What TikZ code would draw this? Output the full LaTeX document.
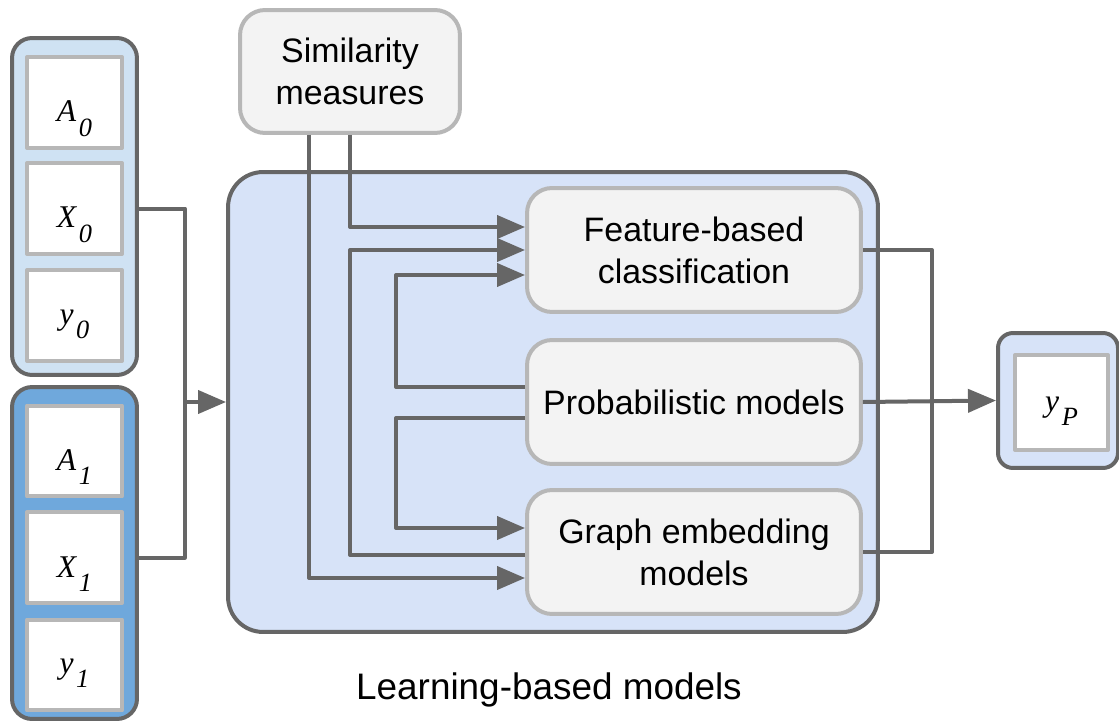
\documentclass[tikz,border=0pt]{standalone}
\usepackage{fontspec}
\setmainfont{Liberation Sans}
\newfontfamily\varfont{Liberation Serif}
\usetikzlibrary{arrows.meta}
\definecolor{edgegray}{HTML}{666666}
\definecolor{boxgray}{HTML}{B7B7B7}
\definecolor{softgray}{HTML}{F3F3F3}
\definecolor{paleblue}{HTML}{CFE2F3}
\definecolor{midblue}{HTML}{6FA8DC}
\definecolor{bigblue}{HTML}{D7E3F8}
\newcommand\varsub[2]{{\varfont\itshape\fontsize{18}{18}\selectfont #1\kern1.5pt\raisebox{-8pt}{\fontsize{15}{15}\selectfont #2}}}
\begin{document}
\begin{tikzpicture}[x=0.02cm, y=-0.02cm, line join=round,
  font=\fontsize{19.3}{24}\selectfont,
  >={Triangle[length=0.56cm,width=0.46cm]},
  group/.style={draw=edgegray, line width=0.08cm, rounded corners=0.4cm},
  varbox/.style={draw=boxgray, line width=0.08cm, fill=white, minimum width=1.9cm, minimum height=1.82cm, inner sep=0pt, text height=#1, text depth=0pt},
  varbox/.default=0.78cm,
  stagebox/.style={draw=boxgray, line width=0.08cm, fill=softgray, rounded corners=0.5cm, align=center, minimum width=6.68cm, minimum height=2.48cm},
  conn/.style={draw=edgegray, line width=0.08cm}]
\useasboundingbox (0,0) rectangle (1119,723);
% inputs
\node[group, fill=paleblue, minimum width=2.5cm, minimum height=6.74cm] (g0) at (74.5,206.5) {};
\node[varbox] (A0) at (74.5,102.5) {\varsub{A}{0}};
\node[varbox] (X0) at (74.5,208.5) {\varsub{X}{0}};
\node[varbox=0.34cm] (y0) at (74.5,315.5) {\varsub{y}{0}};
\node[group, fill=midblue, minimum width=2.5cm, minimum height=6.64cm] (g1) at (74.5,553) {};
\node[varbox] (A1) at (74.5,451) {\varsub{A}{1}};
\node[varbox] (X1) at (74.5,557.5) {\varsub{X}{1}};
\node[varbox=0.34cm] (y1) at (74.5,665) {\varsub{y}{1}};
% models
\node[stagebox, minimum width=4.4cm, minimum height=2.46cm] (sim) at (350,71.5) {Similarity\\measures};
\node[group, fill=bigblue, rounded corners=0.7cm, minimum width=13cm, minimum height=9.2cm] (learn) at (553,402) {};
\node[font=\fontsize{21}{24}\selectfont] (lbl) at (549,690) {Learning-based models};
\node[stagebox] (feat) at (694,250) {Feature-based\\classification};
\node[stagebox] (prob) at (694,402) {Probabilistic models};
\node[stagebox] (graph) at (694,552) {Graph embedding\\models};
% output
\node[group, fill=bigblue, rounded corners=0.3cm, minimum width=2.4cm, minimum height=2.7cm] (ypo) at (1058,400.5) {};
\node[varbox=0.34cm, minimum width=1.86cm, minimum height=1.9cm] (yP) at (1061.5,402.5) {\varsub{y}{P}};
% connectors
\draw[conn] (g0.east |- X0) -- ++(46,0) coordinate (j) |- (g1.east |- X1);
\draw[conn,->] (j |- learn.west) -- (learn.west);
\draw[conn,->] (sim.south) |- ([yshift=0.46cm]feat.west);
\draw[conn,->] ([yshift=-0.06cm]graph.west) -- ++(-175,0) |- (feat.west);
\draw[conn,->] ([yshift=0.3cm]prob.west) -- ++(-129,0) |- ([yshift=-0.5cm]feat.west);
\draw[conn,->] ([yshift=-0.32cm]prob.west) -- ++(-129,0) |- ([yshift=0.48cm]graph.west);
\draw[conn,->] ([xshift=-0.82cm]sim.south) |- ([yshift=-0.52cm]graph.west);
\draw[conn] (feat.east) -- ++(69,0) |- (graph.east);
\draw[conn,->] (prob.east) -- (ypo.west);
\end{tikzpicture}
\end{document}
